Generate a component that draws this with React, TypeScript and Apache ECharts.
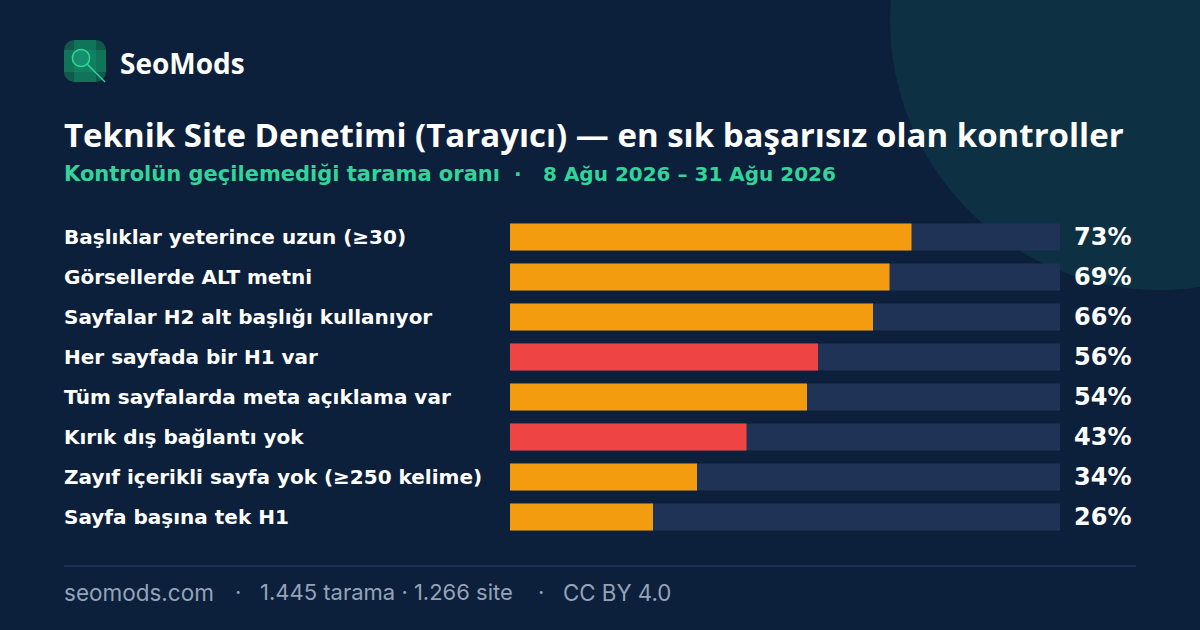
import React, { useEffect, useRef } from "react";
import * as echarts from "echarts";

const categories = [
  "Başlıklar yeterince uzun (≥30)",
  "Görsellerde ALT metni",
  "Sayfalar H2 alt başlığı kullanıyor",
  "Her sayfada bir H1 var",
  "Tüm sayfalarda meta açıklama var",
  "Kırık dış bağlantı yok",
  "Zayıf içerikli sayfa yok (≥250 kelime)",
  "Sayfa başına tek H1",
];
const failRates = [73, 69, 66, 56, 54, 43, 34, 26];
const critical = [false, false, false, true, false, true, false, false];

const BG = "#0c1f3b";
const DV = "'DejaVu Sans', sans-serif";
const OS = "'Open Sans', sans-serif";
const IN = "Inter, sans-serif";

export default function App() {
  const ref = useRef<HTMLDivElement>(null);
  useEffect(() => {
    const chart = echarts.init(ref.current!, null, { renderer: "svg" });
    const txt = (x: number, y: number, text: string, fill: string, font: string) => ({
      type: "text", x, y, style: { text, fill, font, textVerticalAlign: "middle" },
    });
    chart.setOption({
      animation: false,
      backgroundColor: BG,
      graphic: [
        { type: "circle", z: 0, shape: { cx: 1160, cy: 20, r: 270 }, style: { fill: "#0e3043" } },
        { type: "rect", shape: { x: 64, y: 40, width: 42, height: 42, r: 10 }, style: { fill: "#0f5a4a" } },
        { type: "rect", shape: { x: 74, y: 40, width: 22, height: 42 }, style: { fill: "#138a66", opacity: 0.55 } },
        { type: "rect", shape: { x: 64, y: 50, width: 42, height: 22 }, style: { fill: "#138a66", opacity: 0.55 } },
        { type: "circle", shape: { cx: 81, cy: 58, r: 8.5 }, style: { fill: "#14906c", stroke: "#34d399", lineWidth: 1.5 } },
        { type: "line", shape: { x1: 87, y1: 64, x2: 105, y2: 82 }, style: { stroke: "#34d399", lineWidth: 1.5 } },
        txt(120, 63, "SeoMods", "#ffffff", `bold 28px ${OS}`),
        txt(64, 134, "Teknik Site Denetimi (Tarayıcı) — en sık başarısız olan kontroller", "#ffffff", `bold 33px ${OS}`),
        txt(64, 174, "Kontrolün geçilemediği tarama oranı", "#34d399", `bold 21px ${DV}`),
        txt(514, 174, "·", "#34d399", `bold 20px ${DV}`),
        txt(543, 174, "8 Ağu 2026 – 31 Ağu 2026", "#34d399", `bold 20px ${DV}`),
        { type: "line", shape: { x1: 64, y1: 566, x2: 1136, y2: 566 }, style: { stroke: "#1e3a5f", lineWidth: 1.5 } },
        txt(64, 592, "seomods.com", "#94a3b8", `22.5px ${IN}`),
        txt(235, 592, "·", "#94a3b8", `22px ${IN}`),
        txt(260, 592, "1.445 tarama · 1.266 site", "#94a3b8", `22px ${IN}`),
        txt(538, 592, "·", "#94a3b8", `22px ${IN}`),
        txt(563, 592, "CC BY 4.0", "#94a3b8", `22.3px ${IN}`),
      ],
      grid: { left: 510, right: 140, top: 217, height: 320 },
      xAxis: { type: "value", min: 0, max: 100, show: false },
      yAxis: {
        type: "category",
        inverse: true,
        data: categories,
        axisLine: { show: false },
        axisTick: { show: false },
        axisLabel: { align: "left", margin: 446, color: "#ffffff", fontSize: 20, fontWeight: "bold", fontFamily: DV },
      },
      series: [
        {
          type: "bar",
          data: failRates.map(() => 100),
          barWidth: 27,
          itemStyle: { color: "#1e3356" },
          silent: true,
          label: {
            show: true,
            position: "right",
            distance: 14,
            formatter: (p: any) => failRates[p.dataIndex] + "%",
            color: "#ffffff",
            fontSize: 24,
            fontWeight: "bold",
            fontFamily: DV,
          },
        },
        {
          type: "bar",
          data: failRates.map((v, i) => ({ value: v, itemStyle: { color: critical[i] ? "#ef4444" : "#f39c0f" } })),
          barWidth: 27,
          barGap: "-100%",
        },
      ],
    });
    return () => chart.dispose();
  }, []);
  return <div ref={ref} style={{ width: 1200, height: 630, position: "fixed", left: 0, top: 0 }} />;
}
